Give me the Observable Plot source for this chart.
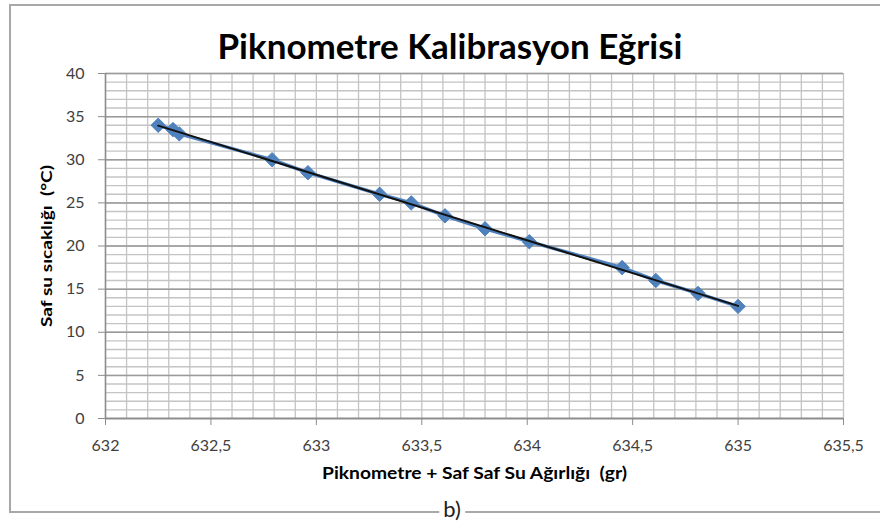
<!DOCTYPE html>
<html>
<head>
<meta charset="utf-8">
<script src="https://cdn.jsdelivr.net/npm/d3@7"></script>
<script src="https://cdn.jsdelivr.net/npm/@observablehq/plot@0.6"></script>
<style>
  html, body { margin: 0; padding: 0; background: #fff; }
  #wrap { position: relative; width: 880px; height: 523px; overflow: hidden; font-family: Lato, sans-serif; }
  #box { position: absolute; left: 9px; top: 4px; width: 900px; height: 505px; border: 2px solid #a8a8a8; border-right: none; }
  #title { position: absolute; left: 10px; width: 880px; top: 25px; text-align: center; font: bold 35px Lato, sans-serif; color: #000; line-height: 40px; }
  #chart { position: absolute; left: 0; top: 58px; }
  #cap { position: absolute; left: 452px; top: 496px; transform: translateX(-50%); background: #fff; padding: 0 4px; font: 22px Lato, sans-serif; color: #222; line-height: 26px; }
</style>
</head>
<body>
<div id="wrap">
  <div id="box"></div>
  <div id="title">Piknometre Kalibrasyon Eğrisi</div>
  <div id="chart"></div>
  <div id="cap">b)</div>
</div>
<script>
const weights = [632.25, 632.32, 632.35, 632.79, 632.96, 633.30, 633.45, 633.61, 633.80, 634.01, 634.45, 634.61, 634.81, 635.00];
const temps   = [34, 33.5, 33, 30, 28.5, 26, 25, 23.5, 22, 20.5, 17.5, 16, 14.5, 13];
const xTicks = [632, 632.5, 633, 633.5, 634, 634.5, 635, 635.5];
const yTicks = [0, 5, 10, 15, 20, 25, 30, 35, 40];
const xLabel = "Piknometre + Saf Saf Su Ağırlığı  (gr)";
const yLabel = "Saf su sıcaklığı  (°C)";

const data = weights.map((w, i) => ({w, t: temps[i]}));
const xMinor = d3.range(0, 36).map(i => +(632 + i * 0.1).toFixed(1));
const yMinor = d3.range(0, 41);

const chart = Plot.plot({
  width: 880,
  height: 440,
  marginTop: 15,
  marginBottom: 80,
  marginLeft: 105,
  marginRight: 37,
  style: {fontFamily: "Lato, sans-serif", fontSize: "16px", color: "#404040", background: "transparent", overflow: "visible"},
  x: {domain: [632, 635.5]},
  y: {domain: [0, 40]},
  marks: [
    Plot.gridX(xMinor, {stroke: "#c4c4c4", strokeOpacity: 1, strokeWidth: 1.3}),
    Plot.gridY(yMinor, {stroke: "#c4c4c4", strokeOpacity: 1, strokeWidth: 1.3}),
    Plot.gridY(yTicks, {stroke: "#9a9a9a", strokeOpacity: 1, strokeWidth: 1.5}),
    Plot.ruleX([632], {stroke: "#8c8c8c", strokeWidth: 1.5}),
    Plot.ruleY([0], {stroke: "#8c8c8c", strokeWidth: 1.5}),
    Plot.axisX({ticks: xTicks, tickSize: 7, tickPadding: 14, stroke: "#8c8c8c", fill: "#404040", label: null, tickFormat: d => String(d).replace(".", ",")}),
    Plot.axisY({ticks: yTicks, tickSize: 7, tickPadding: 14, stroke: "#8c8c8c", fill: "#404040", label: null}),
    Plot.line(data, {x: "w", y: "t", stroke: "#4F81BD", strokeWidth: 3.5}),
    Plot.dot(data, {x: "w", y: "t", symbol: "diamond2", r: 6.5, fill: "#4F81BD", stroke: "#4F81BD", strokeWidth: 1}),
    Plot.linearRegressionY(data, {x: "w", y: "t", stroke: "#111", strokeWidth: 2, ci: 0}),
    Plot.text([xLabel], {text: d => d, frameAnchor: "bottom", textAnchor: "middle", dy: 60, fontWeight: "bold", fontSize: 17, fill: "#000"}),
    Plot.text([yLabel], {text: d => d, frameAnchor: "left", textAnchor: "middle", rotate: -90, dx: -59, fontWeight: "bold", fontSize: 16, fill: "#000"})
  ]
});
// stretch axis titles to the widths seen in the reference
chart.querySelectorAll('g[aria-label="text"] text').forEach(t => {
  const s = t.textContent;
  if (s === xLabel) { t.setAttribute("textLength", 305); t.setAttribute("lengthAdjust", "spacingAndGlyphs"); }
  if (s === yLabel) { t.setAttribute("textLength", 162); t.setAttribute("lengthAdjust", "spacingAndGlyphs"); }
});
document.getElementById("chart").appendChild(chart);
</script>
</body>
</html>
